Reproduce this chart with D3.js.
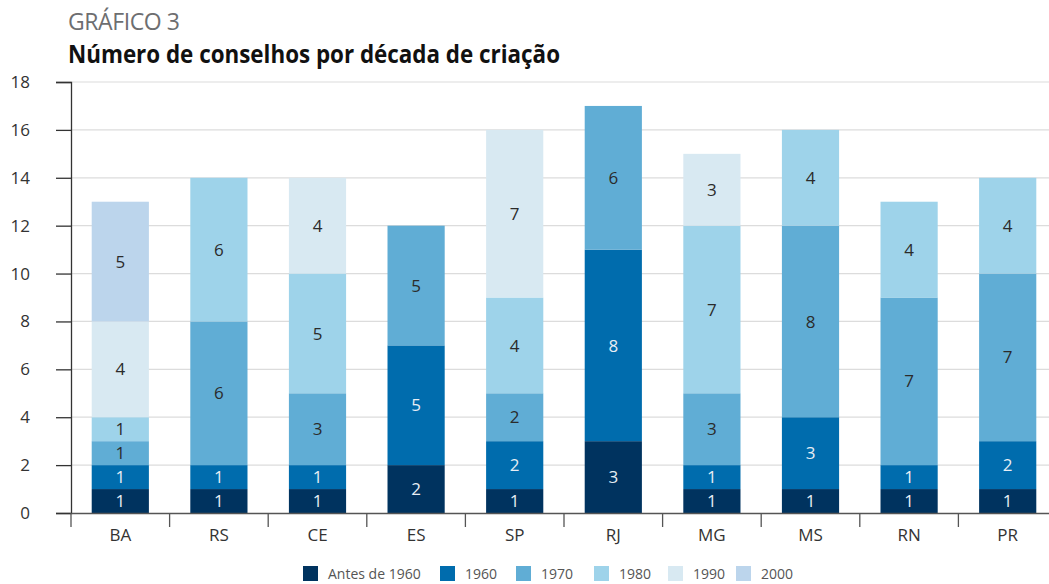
<!DOCTYPE html>
<html>
<head>
<meta charset="utf-8">
<script src="https://cdn.jsdelivr.net/npm/d3@7"></script>
<style>
  body { margin: 0; background: #fff; }
  svg text { font-family: "Open Sans", "Noto Sans", sans-serif; }
</style>
</head>
<body>
<div id="my_dataviz"></div>
<script>

// --------------------------------------------------------
// (1) Data
// --------------------------------------------------------

var states = ["BA", "RS", "CE", "ES", "SP", "RJ", "MG", "MS", "RN", "PR"]
var decades = ["Antes de 1960", "1960", "1970", "1980", "1990", "2000"]

var antes1960 = [1, 1, 1, 2, 1, 3, 1, 1, 1, 1]
var d1960     = [1, 1, 1, 5, 2, 8, 1, 3, 1, 2]
var d1970     = [1, 6, 3, 5, 2, 6, 3, 8, 7, 7]
var d1980     = [1, 6, 5, 0, 4, 0, 7, 4, 4, 4]
var d1990     = [4, 0, 4, 0, 7, 0, 3, 0, 0, 0]
var d2000     = [5, 0, 0, 0, 0, 0, 0, 0, 0, 0]

var yTicks = [0, 2, 4, 6, 8, 10, 12, 14, 16, 18]

var colors = ["#00335f", "#006cad", "#60add5", "#9ed3ea", "#d8e9f2", "#bcd5ec"]
var labelColors = ["#e8eef5", "#e8eef5", "#2b2b2b", "#2b2b2b", "#2b2b2b", "#2b2b2b"]

// --------------------------------------------------------
// (2) Layout
// --------------------------------------------------------

var svg_width = 1049
var svg_height = 584

const margin = { top: 82, right: -8, bottom: 71, left: 71 }

var width = svg_width - (margin.left + margin.right)
var height = svg_height - (margin.top + margin.bottom)

const table = states.map((s, i) => ({
    state: s,
    "Antes de 1960": antes1960[i],
    "1960": d1960[i],
    "1970": d1970[i],
    "1980": d1980[i],
    "1990": d1990[i],
    "2000": d2000[i]
}))

const series = d3.stack().keys(decades)(table)

const root = d3.select("#my_dataviz")
    .append("svg")
    .attr("width", svg_width)
    .attr("height", svg_height)

// title
root.append("text")
    .attr("x", 68).attr("y", 30)
    .attr("font-size", 23)
    .attr("fill", "#6d6e70")
    .attr("textLength", 112)
    .text("GRÁFICO 3")

root.append("text")
    .attr("x", 68).attr("y", 63)
    .attr("font-size", 25)
    .attr("font-weight", "bold")
    .attr("fill", "#111")
    .attr("textLength", 492)
    .attr("lengthAdjust", "spacingAndGlyphs")
    .text("Número de conselhos por década de criação")

const svg = root.append("g")
    .attr("transform", `translate(${margin.left}, ${margin.top})`)

// scales
const x = d3.scaleBand()
    .domain(states)
    .range([0, width])
    .paddingInner(0.42)
    .paddingOuter(0.21)

const y = d3.scaleLinear()
    .domain([0, 18])
    .range([height, 0])

// gridlines
svg.append("g")
    .selectAll("line")
    .data(yTicks.filter(d => d > 0))
    .join("line")
      .attr("x1", 0).attr("x2", width)
      .attr("y1", d => y(d)).attr("y2", d => y(d))
      .attr("stroke", "#dcdcdc")
      .attr("stroke-width", 1.2)

// bars
const layer = svg.selectAll("g.layer")
    .data(series)
    .join("g")
      .attr("class", "layer")
      .attr("fill", (d, i) => colors[i])

layer.selectAll("rect")
    .data(d => d)
    .join("rect")
      .attr("x", d => x(d.data.state))
      .attr("y", d => y(d[1]))
      .attr("width", x.bandwidth())
      .attr("height", d => y(d[0]) - y(d[1]))

// segment labels
series.forEach((s, i) => {
    svg.append("g")
        .selectAll("text")
        .data(s.filter(d => d[1] - d[0] > 0))
        .join("text")
          .attr("x", d => x(d.data.state) + x.bandwidth() / 2)
          .attr("y", d => y((d[0] + d[1]) / 2))
          .attr("dy", "0.36em")
          .attr("text-anchor", "middle")
          .attr("font-size", 17)
          .attr("fill", labelColors[i])
          .text(d => d[1] - d[0])
})

// y axis
const yAxis = svg.append("g")
    .call(d3.axisLeft(y).tickValues(yTicks).tickSize(15).tickPadding(26))
yAxis.select(".domain").attr("stroke", "#333").attr("stroke-width", 1.3)
yAxis.selectAll(".tick line").attr("stroke", "#333").attr("stroke-width", 1.3)
yAxis.selectAll("text").attr("font-size", 17).attr("fill", "#333")

// x axis
const xAxis = svg.append("g")
    .attr("transform", `translate(0, ${height})`)
    .call(d3.axisBottom(x).tickSize(0).tickPadding(16))
xAxis.select(".domain").attr("stroke", "#555").attr("stroke-width", 1.3)
xAxis.selectAll("text").attr("font-size", 17).attr("fill", "#333")

// band separators on the x axis
svg.append("g")
    .selectAll("line")
    .data(states)
    .join("line")
      .attr("x1", d => x(d) - x.step() * x.paddingInner() / 2)
      .attr("x2", d => x(d) - x.step() * x.paddingInner() / 2)
      .attr("y1", height)
      .attr("y2", height + 14)
      .attr("stroke", "#555")
      .attr("stroke-width", 1.3)

// legend
const legendX = [303, 440, 516, 594, 668, 736]
const legend = root.append("g")
    .selectAll("g")
    .data(decades)
    .join("g")
      .attr("transform", (d, i) => `translate(${legendX[i]}, 566)`)

legend.append("rect")
    .attr("width", 15).attr("height", 15)
    .attr("fill", (d, i) => colors[i])

legend.append("text")
    .attr("x", 25).attr("y", 8)
    .attr("dy", "0.36em")
    .attr("font-size", 14)
    .attr("fill", "#555")
    .text(d => d)

</script>
</body>
</html>
